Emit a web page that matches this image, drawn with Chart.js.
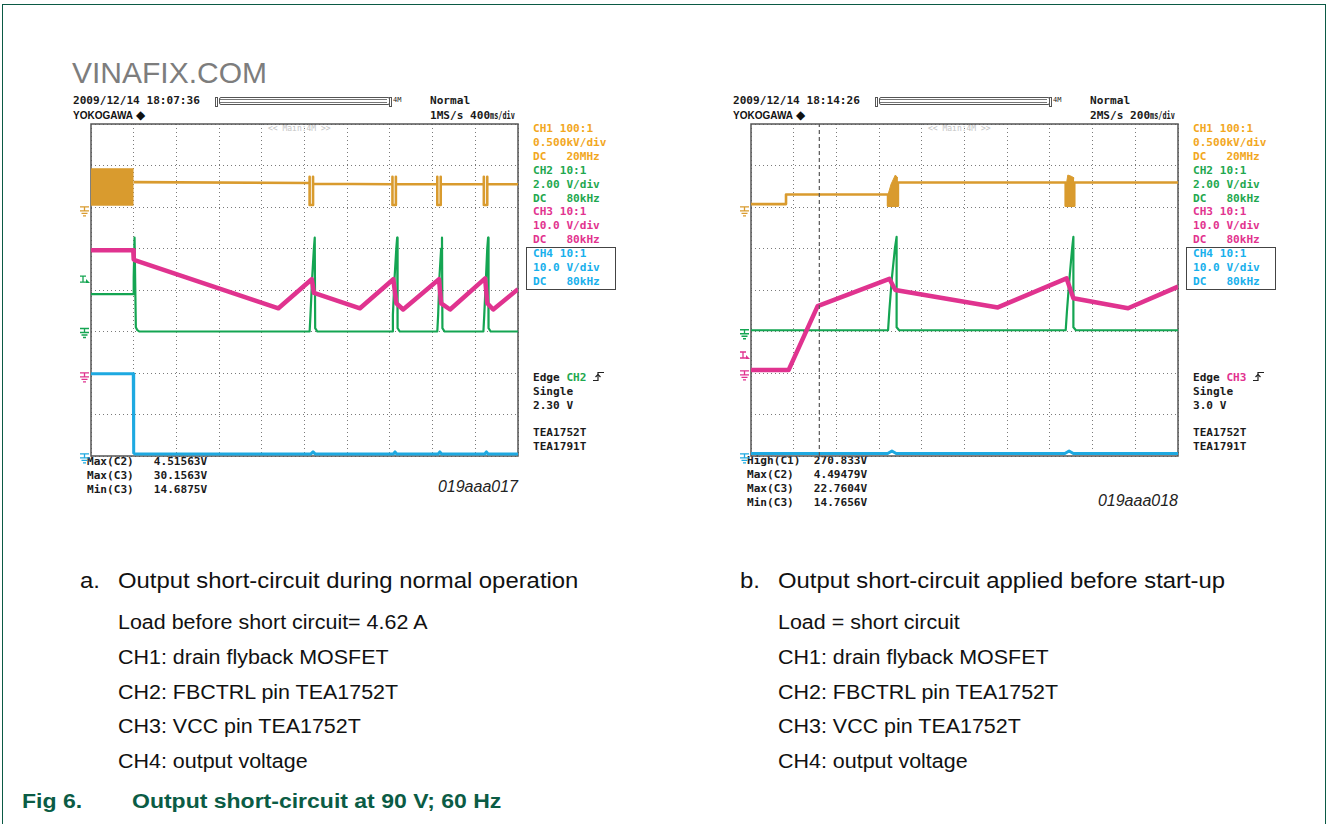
<!DOCTYPE html>
<html><head><meta charset="utf-8">
<script src="https://cdn.jsdelivr.net/npm/chart.js@4.4.1/dist/chart.umd.min.js"></script>
<style>
body{margin:0;background:#fff;width:1328px;height:824px;overflow:hidden;position:relative;font-family:'Liberation Sans',Arial,sans-serif;}
.a{position:absolute;white-space:pre;}
.m{font-family:'DejaVu Sans Mono',monospace;font-size:11.1px;line-height:14px;color:#1a1a1a;font-weight:bold;}
.cap{font-size:22px;line-height:26px;color:#111;transform:scaleX(1.085);transform-origin:0 50%;}
.sub{font-size:19.5px;line-height:24px;color:#111;transform:scaleX(1.1);transform-origin:0 50%;}
.fig{font-weight:bold;font-size:20px;line-height:24px;color:#0b5c45;transform:scaleX(1.15);transform-origin:0 50%;}
.cond{display:inline-block;transform:scaleX(0.62);transform-origin:0 50%;width:26px;overflow:visible;}
canvas{position:absolute;}
</style></head><body>
<div class="a" style="left:2px;top:4px;width:1322px;height:840px;border:1.5px solid #0b5a45;border-bottom:none;"></div>
<div id="root"></div>
<script>
// ---------- DATA (time in divisions 0..10, level in divisions 0..8) ----------
// Scope a: output short-circuit during normal operation (400 ms/div)
const a_ch1Band_t = [0, 1.0];
const a_ch1Band_v = [6.92, 6.92];
const a_ch1Band_base = 6.03;
const a_ch1_t = [1.0, 5.12, 5.12, 5.12, 5.20, 5.20, 5.20, 7.06, 7.06, 7.06, 7.14, 7.14, 7.14, 8.11, 8.11, 8.11, 8.19, 8.19, 8.19, 9.20, 9.20, 9.20, 9.28, 9.28, 9.28, 10];
const a_ch1_v = [6.60, 6.58, 6.73, 6.05, 6.05, 6.73, 6.56, 6.55, 6.73, 6.05, 6.05, 6.73, 6.55, 6.55, 6.73, 6.05, 6.05, 6.73, 6.55, 6.55, 6.73, 6.05, 6.05, 6.73, 6.55, 6.55];
const a_ch2_t = [0, 0.99, 1.0, 1.02, 1.05, 1.08, 1.13, 5.12, 5.14, 5.18, 5.22, 5.24, 5.25, 5.30, 7.05, 7.07, 7.11, 7.15, 7.17, 7.18, 7.23, 8.11, 8.13, 8.16, 8.20, 8.22, 8.23, 8.28, 9.19, 9.21, 9.25, 9.28, 9.30, 9.31, 9.36, 10];
const a_ch2_v = [3.90, 3.90, 4.30, 5.26, 3.10, 3.04, 3.00, 3.00, 3.40, 4.30, 5.00, 5.26, 3.08, 3.00, 3.00, 3.40, 4.30, 5.00, 5.26, 3.08, 3.00, 3.00, 3.40, 4.30, 5.00, 5.26, 3.08, 3.00, 3.00, 3.40, 4.30, 5.00, 5.26, 3.08, 3.00, 3.00];
const a_ch3_t = [0, 0.99, 1.0, 1.02, 4.39, 5.17, 5.22, 6.30, 7.08, 7.15, 7.31, 8.15, 8.20, 8.41, 9.23, 9.28, 9.42, 10];
const a_ch3_v = [4.96, 4.96, 4.74, 4.72, 3.56, 4.26, 3.93, 3.56, 4.26, 3.68, 3.53, 4.26, 3.68, 3.53, 4.28, 3.68, 3.53, 4.02];
const a_ch4_t = [0, 0.99, 1.0, 1.03, 5.15, 5.20, 5.25, 7.08, 7.12, 7.16, 8.13, 8.17, 8.21, 9.22, 9.26, 9.30, 10];
const a_ch4_v = [1.98, 1.98, 0.07, 0.05, 0.05, 0.10, 0.05, 0.05, 0.10, 0.05, 0.05, 0.10, 0.05, 0.05, 0.10, 0.05, 0.05];

// Scope b: output short-circuit applied before start-up (200 ms/div)
const b_ch1_t = [0, 0.82, 0.82, 3.21, 3.21, 3.44, 3.44, 7.37, 7.37, 7.57, 7.57, 10];
const b_ch1_v = [6.07, 6.07, 6.30, 6.30, 6.03, 6.03, 6.59, 6.59, 6.03, 6.03, 6.59, 6.59];
const b_burst1_t = [3.21, 3.28, 3.38, 3.44];
const b_burst1_v = [6.30, 6.55, 6.77, 6.70];
const b_burst2_t = [7.37, 7.42, 7.50, 7.57];
const b_burst2_v = [6.45, 6.77, 6.74, 6.70];
const b_burst_base = 6.03;
const b_ch2_t = [0, 3.21, 3.24, 3.30, 3.37, 3.41, 3.41, 3.47, 7.37, 7.40, 7.46, 7.52, 7.55, 7.55, 7.61, 10];
const b_ch2_v = [3.03, 3.03, 3.50, 4.30, 5.00, 5.28, 3.10, 3.03, 3.03, 3.50, 4.30, 5.00, 5.28, 3.10, 3.03, 3.03];
const b_ch3_t = [0, 0.88, 1.56, 3.24, 3.38, 5.78, 7.39, 7.55, 8.83, 10];
const b_ch3_v = [2.07, 2.07, 3.61, 4.27, 4.00, 3.58, 4.28, 3.80, 3.56, 4.08];
const b_ch4_t = [0, 3.20, 3.30, 3.40, 7.35, 7.45, 7.55, 10];
const b_ch4_v = [0.06, 0.06, 0.12, 0.06, 0.06, 0.12, 0.06, 0.06];
const b_cursor_t = [1.6, 1.6];
const b_cursor_v = [0, 8];

// Text of the scope screens
const a_header = ['2009/12/14 18:07:36', 'Normal', '1MS/s 400', 'ms/div'];
const b_header = ['2009/12/14 18:14:26', 'Normal', '2MS/s 200', 'ms/div'];
const chLabels = ['CH1 100:1', '0.500kV/div', 'DC   20MHz', 'CH2 10:1', '2.00 V/div', 'DC   80kHz', 'CH3 10:1', '10.0 V/div', 'DC   80kHz', 'CH4 10:1', '10.0 V/div', 'DC   80kHz'];
const a_trig = ['CH2', '2.30 V'];
const b_trig = ['CH3', '3.0 V'];
const ics = ['TEA1752T', 'TEA1791T'];
const a_meas = [['Max(C2)', '4.51563V'], ['Max(C3)', '30.1563V'], ['Min(C3)', '14.6875V']];
const b_meas = [['High(C1)', '270.833V'], ['Max(C2)', '4.49479V'], ['Max(C3)', '22.7604V'], ['Min(C3)', '14.7656V']];
const a_code = '019aaa017';
const b_code = '019aaa018';
const a_caption = ['a.', 'Output short-circuit during normal operation'];
const b_caption = ['b.', 'Output short-circuit applied before start-up'];
const a_notes = ['Load before short circuit= 4.62 A', 'CH1: drain flyback MOSFET', 'CH2: FBCTRL pin TEA1752T', 'CH3: VCC pin TEA1752T', 'CH4: output voltage'];
const b_notes = ['Load = short circuit', 'CH1: drain flyback MOSFET', 'CH2: FBCTRL pin TEA1752T', 'CH3: VCC pin TEA1752T', 'CH4: output voltage'];
const figLabel = ['Fig 6.', 'Output short-circuit at 90 V; 60 Hz'];

// ---------- STYLE ----------
const C1 = '#d99b2e', C2 = '#14a552', C3 = '#e0338f', C4 = '#1ea9e1';
const T1 = '#f2a71e', T2 = '#1fa84f', T3 = '#e2338f', T4 = '#18b0ec';
const chColors = [T1, T1, T1, T2, T2, T2, T3, T3, T3, T4, T4, T4];

const root = document.getElementById('root');
function txt(x, y, s, cls, style) {
  const d = document.createElement('div');
  d.className = 'a ' + (cls || '');
  d.style.left = x + 'px'; d.style.top = y + 'px';
  if (style) d.style.cssText += style;
  d.textContent = s;
  root.appendChild(d);
  return d;
}
function pts(t, v) { return t.map((x, i) => ({x: x, y: v[i]})); }

const PL = 21, PR = 6, PT = 6, PB = 10;
function scopeChart(left, top, w, h, datasets, markers) {
  const cv = document.createElement('canvas');
  cv.width = w + PL + PR; cv.height = h + PT + PB;
  cv.style.left = (left - PL) + 'px'; cv.style.top = (top - PT) + 'px';
  root.appendChild(cv);
  const plug = {
    id: 'scopeDeco',
    beforeDatasetsDraw(chart) {
      const {ctx, chartArea: ca} = chart;
      ctx.save();
      ctx.strokeStyle = '#555'; ctx.lineWidth = 1.5;
      ctx.strokeRect(ca.left, ca.top, ca.right - ca.left, ca.bottom - ca.top);
      ctx.restore();
    },
    afterDraw(chart) {
      const {ctx, chartArea: ca, scales} = chart;
      ctx.save();
      markers.forEach(mk => {
        const y = scales.y.getPixelForValue(mk.d);
        const x0 = ca.left - 11;
        ctx.strokeStyle = mk.c; ctx.fillStyle = mk.c; ctx.lineWidth = 1.3;
        ctx.beginPath();
        if (mk.k === 'g') {
          ctx.moveTo(x0, y - 3); ctx.lineTo(x0 + 9, y - 3);
          ctx.moveTo(x0 + 4.5, y - 3); ctx.lineTo(x0 + 4.5, y + 1);
          ctx.moveTo(x0, y + 1); ctx.lineTo(x0 + 9, y + 1);
          ctx.moveTo(x0 + 1.5, y + 3.5); ctx.lineTo(x0 + 7.5, y + 3.5);
          ctx.moveTo(x0 + 3, y + 6); ctx.lineTo(x0 + 6, y + 6);
          ctx.stroke();
        } else {
          ctx.moveTo(x0, y - 4); ctx.lineTo(x0 + 6, y - 4);
          ctx.moveTo(x0 + 3, y - 4); ctx.lineTo(x0 + 3, y + 2);
          ctx.moveTo(x0, y + 2); ctx.lineTo(x0 + 6, y + 2);
          ctx.stroke();
          ctx.beginPath();
          ctx.moveTo(x0 + 6, y - 1); ctx.lineTo(x0 + 10, y + 3); ctx.lineTo(x0 + 6, y + 3); ctx.closePath();
          ctx.fill();
        }
      });
      ctx.restore();
    }
  };
  new Chart(cv, {
    type: 'scatter',
    data: {datasets: datasets},
    options: {
      responsive: false, animation: false,
      layout: {padding: {left: PL, right: PR, top: PT, bottom: PB}},
      plugins: {legend: {display: false}, tooltip: {enabled: false}},
      elements: {point: {radius: 0}, line: {tension: 0}},
      scales: {
        x: {type: 'linear', min: 0, max: 10, ticks: {display: false, stepSize: 1},
            grid: {color: '#7a7a7a', lineWidth: 1, drawTicks: false}, border: {display: false, dash: [1, 3]}},
        y: {type: 'linear', min: 0, max: 8, ticks: {display: false, stepSize: 1},
            grid: {color: '#7a7a7a', lineWidth: 1, drawTicks: false}, border: {display: false, dash: [1, 3]}}
      }
    },
    plugins: [plug]
  });
}
function line(t, v, color, width, extra) {
  return Object.assign({data: pts(t, v), showLine: true, borderColor: color, borderWidth: width,
    pointRadius: 0, fill: false, borderJoinStyle: 'round', borderCapStyle: 'butt'}, extra || {});
}

// ---------- SCOPE TEXT ----------
function scopeText(ox, header, trig, trigColor, meas, measTop, code, codeY) {
  txt(73 + ox, 94, header[0], 'm');
  txt(73 + ox, 110, 'YOKOGAWA', '', "font-family:'Liberation Sans';font-weight:bold;font-size:10px;line-height:12px;color:#111;");
  txt(136 + ox, 108, '\u25C6', '', 'font-size:12px;line-height:14px;color:#111;');
  // record bar
  txt(215 + ox, 97, '', '', 'width:1px;height:8px;border:1px solid #555;');
  txt(219 + ox, 97, '', '', 'width:169px;height:6px;border:1px solid #555;border-radius:2px;');
  txt(220 + ox, 99, '', '', 'width:167px;height:2px;border-top:1px solid #777;border-bottom:1px solid #777;');
  txt(389 + ox, 97, '', '', 'width:1px;height:8px;border:1px solid #555;');
  txt(393 + ox, 96, '4M', 'm', 'font-size:7px;line-height:8px;font-weight:normal;');
  txt(430 + ox, 94, header[1], 'm');
  const r = txt(430 + ox, 109, header[2], 'm');
  const cs = document.createElement('span'); cs.className = 'cond'; cs.textContent = header[3];
  r.appendChild(cs);
  txt(268 + ox, 124, '<< Main:4M >>', 'm', 'font-size:8px;line-height:10px;color:#c4c4c4;font-weight:normal;');
  chLabels.forEach((s, i) => txt(533 + ox, 122 + i * 13.9, s, 'm', 'color:' + chColors[i] + ';'));
  txt(526 + ox, 247, '', '', 'width:88px;height:41px;border:1px solid #444;');
  const e = txt(533 + ox, 371, 'Edge ', 'm');
  const sp = document.createElement('span'); sp.textContent = trig[0]; sp.style.color = trigColor;
  e.appendChild(sp);
  e.insertAdjacentHTML('beforeend', ' <svg width="12" height="11" style="vertical-align:-1px"><path d="M0 9.5 H5 V1.5 H11" stroke="#222" stroke-width="1.2" fill="none"/><path d="M2.5 6 L5 3.5 L7.5 6" stroke="#222" stroke-width="1.2" fill="none"/></svg>');
  txt(533 + ox, 385, 'Single', 'm');
  txt(533 + ox, 399, trig[1], 'm');
  ics.forEach((s, i) => txt(533 + ox, 426 + i * 14, s, 'm'));
  meas.forEach((r, i) => txt(87 + ox, measTop + i * 14, r[0].padEnd(10, ' ') + r[1], 'm'));
  const c = txt(0, codeY - 10, code, '', "font-family:'Liberation Sans';font-style:italic;font-size:16px;line-height:20px;color:#222;");
  c.style.left = 'auto'; c.style.right = (1328 - 518 - ox) + 'px';
}
scopeText(0, a_header, a_trig, T2, a_meas, 455, a_code, 487);
scopeText(660, b_header, b_trig, T3, b_meas, 454, b_code, 501);
txt(72, 56, 'VINAFIX.COM', '', "font-family:'Liberation Sans';font-size:30px;line-height:34px;color:#7d7d7d;");

// ---------- CHARTS ----------
scopeChart(91, 124, 427, 332, [
  line(a_ch4_t, a_ch4_v, C4, 3),
  line(a_ch3_t, a_ch3_v, C3, 4.5),
  line(a_ch2_t, a_ch2_v, C2, 2.2),
  line(a_ch1Band_t, a_ch1Band_v, C1, 1, {fill: {value: a_ch1Band_base}, backgroundColor: C1}),
  line(a_ch1_t, a_ch1_v, C1, 2.6)
], [
  {d: 5.93, c: C1, k: 'g'}, {d: 4.24, c: C2, k: 't'}, {d: 3.0, c: C2, k: 'g'},
  {d: 1.93, c: C3, k: 'g'}, {d: -0.02, c: C4, k: 'g'}
]);
scopeChart(751, 124, 427, 332, [
  line(b_cursor_t, b_cursor_v, '#555', 1.2, {borderDash: [4, 3]}),
  line(b_ch4_t, b_ch4_v, C4, 3),
  line(b_ch3_t, b_ch3_v, C3, 4.5),
  line(b_ch2_t, b_ch2_v, C2, 2.2),
  line(b_burst1_t, b_burst1_v, C1, 1, {fill: {value: b_burst_base}, backgroundColor: C1}),
  line(b_burst2_t, b_burst2_v, C1, 1, {fill: {value: b_burst_base}, backgroundColor: C1}),
  line(b_ch1_t, b_ch1_v, C1, 2.6)
], [
  {d: 5.93, c: C1, k: 'g'}, {d: 2.97, c: C2, k: 'g'}, {d: 2.41, c: C3, k: 't'},
  {d: 1.98, c: C3, k: 'g'}, {d: -0.02, c: C4, k: 'g'}
]);

// ---------- CAPTIONS ----------
function captions(ox, cap, notes) {
  txt(80 + ox, 568, cap[0], 'cap');
  txt(118 + ox, 568, cap[1], 'cap');
  notes.forEach((s, i) => txt(118 + ox, [610, 645, 680, 714, 749][i], s, 'sub'));
}
captions(0, a_caption, a_notes);
captions(660, b_caption, b_notes);
txt(22, 789, figLabel[0], 'fig');
txt(132, 789, figLabel[1], 'fig');
</script>
</body></html>
